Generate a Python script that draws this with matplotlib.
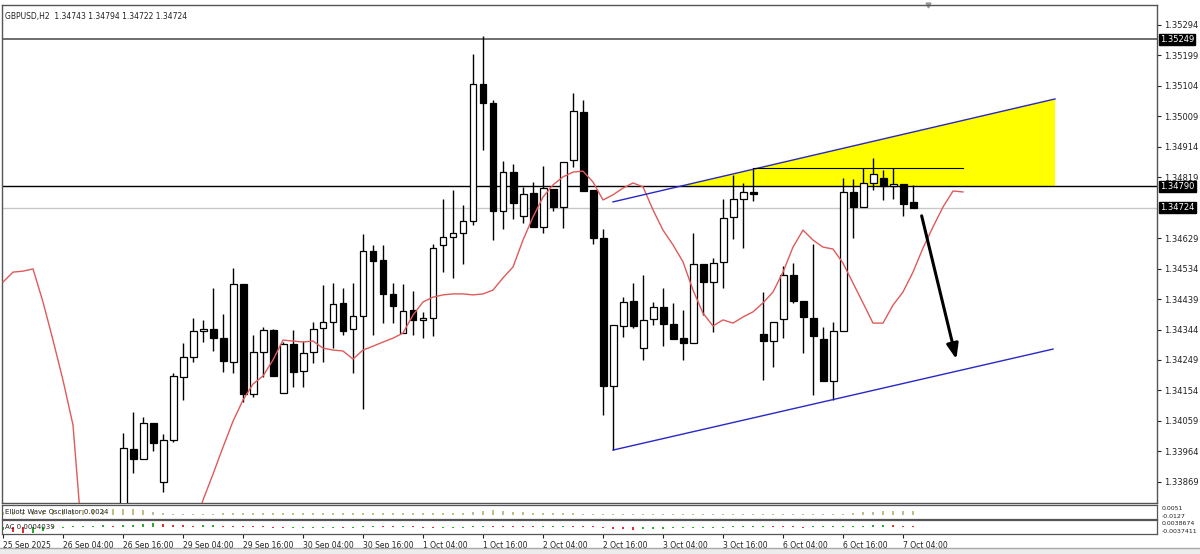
import numpy as np
import matplotlib.pyplot as plt
from matplotlib.patches import Polygon, Rectangle
from matplotlib.lines import Line2D
import matplotlib.transforms as mtransforms

plt.rcParams['font.family'] = ['DejaVu Sans']

# GBPUSD H2 candles, bar index 12..91 (bar 0 = 25 Sep 2025 16:00)
first_bar = 12
opens = [1.33750, 1.33971, 1.33940, 1.34052, 1.33868, 1.33999, 1.34196, 1.34258, 1.34339, 1.34346,
         1.34317, 1.34243, 1.34486, 1.34143, 1.34274, 1.34342, 1.34146, 1.34299, 1.34215, 1.34274,
         1.34349, 1.34367, 1.34427, 1.34346, 1.34386, 1.34589, 1.34561, 1.34455, 1.34333, 1.34405,
         1.34374, 1.34380, 1.34608, 1.34633, 1.34645, 1.34683, 1.35110, 1.35051, 1.34714, 1.34835,
         1.34698, 1.34770, 1.34664, 1.34782, 1.34726, 1.34873, 1.35023, 1.34779, 1.34629, 1.34168,
         1.34355, 1.34433, 1.34286, 1.34377, 1.34414, 1.34361, 1.34317, 1.34302, 1.34548, 1.34492,
         1.34555, 1.34695, 1.34751, 1.34773, 1.34330, 1.34308, 1.34377, 1.34514, 1.34433, 1.34380,
         1.34314, 1.34183, 1.34339, 1.34773, 1.34726, 1.34801, 1.34817, 1.34792, 1.34798, 1.34743]
highs = [1.34021, 1.34087, 1.34071, 1.34052, 1.34018, 1.34208, 1.34302, 1.34380, 1.34374, 1.34473,
         1.34392, 1.34536, 1.34486, 1.34327, 1.34352, 1.34346, 1.34305, 1.34342, 1.34308, 1.34367,
         1.34483, 1.34489, 1.34473, 1.34489, 1.34642, 1.34608, 1.34608, 1.34489, 1.34486, 1.34464,
         1.34399, 1.34611, 1.34751, 1.34779, 1.34732, 1.35204, 1.35260, 1.35060, 1.34870, 1.34860,
         1.34789, 1.34804, 1.34854, 1.34782, 1.34867, 1.35082, 1.35060, 1.34779, 1.34658, 1.34358,
         1.34445, 1.34489, 1.34514, 1.34430, 1.34473, 1.34427, 1.34405, 1.34645, 1.34548, 1.34567,
         1.34751, 1.34826, 1.34801, 1.34848, 1.34461, 1.34367, 1.34542, 1.34551, 1.34433, 1.34611,
         1.34352, 1.34367, 1.34817, 1.34814, 1.34848, 1.34879, 1.34842, 1.34848, 1.34798, 1.34794]
lows = [1.33687, 1.33896, 1.33940, 1.33965, 1.33837, 1.33993, 1.34124, 1.34243, 1.34305, 1.34277,
        1.34211, 1.34208, 1.34118, 1.34133, 1.34196, 1.34199, 1.34146, 1.34165, 1.34165, 1.34239,
        1.34243, 1.34286, 1.34327, 1.34208, 1.34096, 1.34327, 1.34364, 1.34364, 1.34333, 1.34327,
        1.34317, 1.34324, 1.34523, 1.34505, 1.34548, 1.34670, 1.34904, 1.34623, 1.34658, 1.34689,
        1.34676, 1.34664, 1.34645, 1.34714, 1.34661, 1.34851, 1.34776, 1.34611, 1.34077, 1.33968,
        1.34321, 1.34349, 1.34249, 1.34358, 1.34292, 1.34314, 1.34249, 1.34302, 1.34389, 1.34336,
        1.34473, 1.34626, 1.34598, 1.34745, 1.34186, 1.34227, 1.34317, 1.34427, 1.34271, 1.34140,
        1.34183, 1.34124, 1.34339, 1.34629, 1.34726, 1.34779, 1.34748, 1.34751, 1.34698, 1.34722]
closes = [1.33974, 1.33940, 1.34052, 1.33990, 1.33999, 1.34199, 1.34258, 1.34339, 1.34346, 1.34317,
          1.34246, 1.34486, 1.34143, 1.34274, 1.34342, 1.34199, 1.34299, 1.34211, 1.34271, 1.34346,
          1.34367, 1.34424, 1.34339, 1.34386, 1.34589, 1.34558, 1.34455, 1.34417, 1.34402, 1.34374,
          1.34380, 1.34598, 1.34633, 1.34645, 1.34683, 1.35110, 1.35051, 1.34714, 1.34835, 1.34739,
          1.34767, 1.34664, 1.34785, 1.34726, 1.34867, 1.35026, 1.34776, 1.34629, 1.34168, 1.34358,
          1.34430, 1.34355, 1.34374, 1.34414, 1.34361, 1.34314, 1.34302, 1.34548, 1.34492, 1.34551,
          1.34692, 1.34751, 1.34773, 1.34767, 1.34308, 1.34367, 1.34514, 1.34433, 1.34383, 1.34324,
          1.34183, 1.34339, 1.34773, 1.34726, 1.34801, 1.34829, 1.34792, 1.34798, 1.34736, 1.34724]

# red moving-average style line (bar index, price); dips off the chart between bars 8 and 19
ma_bars = list(range(0, 9)) + list(range(19, 97))
ma_vals = [1.34492, 1.34523, 1.34526, 1.34533, 1.34430, 1.34311, 1.34186, 1.34046, 1.33656,
           1.33718, 1.33812, 1.33893, 1.33977, 1.34058, 1.34124, 1.34174, 1.34199, 1.34249, 1.34311,
           1.34308, 1.34305, 1.34308, 1.34286, 1.34280, 1.34277, 1.34252, 1.34280, 1.34292, 1.34305,
           1.34317, 1.34333, 1.34389, 1.34430, 1.34445, 1.34452, 1.34455, 1.34455, 1.34452, 1.34455,
           1.34467, 1.34505, 1.34539, 1.34623, 1.34695, 1.34757, 1.34795, 1.34820, 1.34835, 1.34838,
           1.34804, 1.34748, 1.34764, 1.34785, 1.34801, 1.34789, 1.34717, 1.34654, 1.34608, 1.34555,
           1.34467, 1.34395, 1.34355, 1.34374, 1.34364, 1.34383, 1.34399, 1.34427, 1.34461, 1.34523,
           1.34601, 1.34654, 1.34623, 1.34601, 1.34595, 1.34551, 1.34489, 1.34427, 1.34364, 1.34364,
           1.34420, 1.34461, 1.34523, 1.34598, 1.34664, 1.34726, 1.34776, 1.34773]

# indicator values, bars 0..91
ewo = [1.5, 1.8, 2.0, 2.2, 2.4, 2.6, 2.6, 2.5, 2.6, 2.8, 3.0, 3.2, 3.4, 3.2, 3.0, 1.6, 1.2, 0.3, 0.2, 0.2,
       0.1, 0.1, 1.0, 1.0, 1.0, 1.0, 1.0, 1.0, 1.0, 1.0, 1.0, 1.0, 1.0, 1.0, 1.0, 1.0, 1.0, 1.0, 1.0, 1.0,
       1.0, 1.0, 1.0, 1.1, 1.3, 1.3, 1.3, 2.0, 2.4, 2.6, 2.4, 2.0, 1.6, 1.2, 1.1, 1.0, 1.0, 1.0, 0.9, 0.3,
       0.3, 0.3, 0.3, 0.3, 0.3, 0.3, 0.3, 0.3, 0.3, 0.3, 0.3, 0.3, 0.3, 0.3, 0.3, 0.3, 0.4, 0.4, 0.4, 0.4,
       0.5, 0.5, 0.5, 0.5, 0.5, 1.2, 1.6, 2.0, 2.2, 2.4, 2.4, 2.4]
ac = [-3, -5, -6, -5.5, -4, -1, -0.5, 0.3, 0.8, 1.2, 1.6, 1.3, 1.8, 2.5, 3.0, 3.8, 3.0, 2.4, 1.8, 1.3,
      1.6, 1.8, 1.4, 1.0, 0.6, 0.4, 0.1, -0.3, -0.6, -0.5, -0.4, -0.3, -0.2, -0.1, -0.3, -0.2, 0.2, 0.4, 0.2, 0.1,
      0.2, 0.0, -0.2, -0.5, -0.3, -0.2, -0.1, 0.6, 1.2, 0.9, 0.6, 0.5, 0.3, 0.0, 0.4, 0.6, 0.8, 0.7, 0.6, 0.5,
      -0.8, -1.5, -2.2, -3.0, -2.4, -1.8, -1.5, -1.2, -1.0, -0.8, -0.6, -0.4, -0.2, 0.0, 0.2, 0.4, 0.6, 0.5, 0.3, 0.1,
      -0.2, 0.0, 0.2, 0.3, 0.5, 0.8, 1.2, 1.8, 2.4, 1.6, 1.0, 0.4]

# levels and drawn objects
level_high = 1.35249
level_mid = 1.34790
level_last = 1.34724
resist = 1.34848
upper_line = [(61, 1.34742), (105.2, 1.35063)]
lower_line = [(61, 1.33968), (105.0, 1.34283)]
arrow_from = (91.8, 1.34707)
arrow_to = (95.4, 1.34243)

price_ticks = [1.35294, 1.35199, 1.35104, 1.35009, 1.34914, 1.34819, 1.34629, 1.34534,
               1.34439, 1.34344, 1.34249, 1.34154, 1.34059, 1.33964, 1.33869]
date_ticks = list(range(0, 91, 6))
date_labels = ['25 Sep 2025', '26 Sep 04:00', '26 Sep 16:00', '29 Sep 04:00', '29 Sep 16:00',
               '30 Sep 04:00', '30 Sep 16:00', '1 Oct 04:00', '1 Oct 16:00', '2 Oct 04:00',
               '2 Oct 16:00', '3 Oct 04:00', '3 Oct 16:00', '6 Oct 04:00', '6 Oct 16:00', '7 Oct 04:00']

W, H = 1200, 554
fig = plt.figure(figsize=(W / 100, H / 100), dpi=100)
fig.patch.set_facecolor('white')

def box(x0, y0, x1, y1):
    return [x0 / W, 1 - y1 / H, (x1 - x0) / W, (y1 - y0) / H]

ax = fig.add_axes(box(2, 5, 1157, 503))
ax_ewo = fig.add_axes(box(2, 505, 1157, 519), sharex=ax)
ax_ac = fig.add_axes(box(2, 520, 1157, 534), sharex=ax)

ax.set_xlim(-0.1, 115.4)
ax.set_ylim(1.33803, 1.35356)

# candles
x = np.arange(first_bar, first_bar + len(opens))
o = np.array(opens)
c = np.array(closes)
bull = c >= o
ax.vlines(x, lows, highs, color='black', lw=1, zorder=3)
bottoms = np.minimum(o, c)
heights = np.maximum(np.abs(c - o), 0.000015)
ax.bar(x, heights, bottom=bottoms, width=0.7,
       color=np.where(bull, 'white', 'black'), edgecolor='black', lw=0.9, zorder=4)

# red line
ax.plot(ma_bars, ma_vals, color='#e05a5a', lw=1, zorder=5)

# horizontal levels
ax.axhline(level_high, color='#555555', lw=1.2, zorder=2)
ax.axhline(level_mid, color='black', lw=1, zorder=2)
ax.axhline(level_last, color='#c8c8c8', lw=1, zorder=1)

# yellow zone between upper line and mid level
(xa, ya), (xb, yb) = upper_line
t = (level_mid - ya) / (yb - ya)
xc = xa + t * (xb - xa)
ax.add_patch(Polygon([(xc, level_mid), (xb, yb), (xb, level_mid)], closed=True,
                     facecolor='#ffff00', edgecolor='none', zorder=1.5))
ax.plot([xa, xb], [ya, yb], color='#2828c8', lw=1, zorder=6)
ax.plot([p[0] for p in lower_line], [p[1] for p in lower_line], color='#2828c8', lw=1, zorder=6)
ax.plot([75, 96], [resist, resist], color='black', lw=0.8, zorder=6)

ax.annotate('', xy=arrow_to, xytext=arrow_from,
            arrowprops=dict(arrowstyle='-|>,head_width=0.35,head_length=0.9', color='black', lw=2.2),
            zorder=7)

# right price axis
ax.yaxis.tick_right()
ax.set_yticks(price_ticks)
ax.set_yticklabels([f'{v:.5f}' for v in price_ticks])
ax.tick_params(axis='y', direction='out', length=3, width=0.8, labelsize=6, pad=2, colors='#222222')
ax.tick_params(axis='x', bottom=False, labelbottom=False)
for s in ax.spines.values():
    s.set_color('#555555')
    s.set_linewidth(1)

ytr = ax.get_yaxis_transform()
for lv in (level_high, level_mid, level_last):
    ax.text(1.0025, lv, f'{lv:.5f}', transform=ytr, fontsize=6, color='white', va='center', ha='left',
            bbox=dict(boxstyle='square,pad=0.15', facecolor='black', edgecolor='black'),
            zorder=10, clip_on=False)

ax.text(0.003, 0.985, 'GBPUSD,H2  1.34743 1.34794 1.34722 1.34724', transform=ax.transAxes,
        fontsize=5.5, color='#222222', va='top', ha='left')
ax.plot([92.5], [1.0], marker='v', color='#9a9a9a', markersize=3.5,
        transform=mtransforms.blended_transform_factory(ax.transData, ax.transAxes), clip_on=False)

# Elliott Wave Oscillator panel
xi = np.arange(len(ewo))
ewo_draw = np.maximum(np.array(ewo), 0.7)
ax_ewo.vlines(xi, 0, ewo_draw, color='#b8b070', lw=1.2)
ax_ewo.set_ylim(-2.0, 5.5)
ax_ewo.set_yticks([])
ax_ewo.tick_params(axis='x', bottom=False, labelbottom=False)
ax_ewo.text(0.003, 0.5, 'Elliott Wave Oscillator 0.0024', transform=ax_ewo.transAxes,
            fontsize=5, va='center', ha='left', color='#222222')
ax_ewo.text(1.004, 0.78, '0.0051', transform=ax_ewo.transAxes, fontsize=4.5, va='center', color='#222222')
ax_ewo.text(1.004, 0.18, '-0.0127', transform=ax_ewo.transAxes, fontsize=4.5, va='center', color='#222222')

# Accelerator panel
ac_arr = np.array(ac)
ac_col = ['#18a018' if i == 0 or ac_arr[i] > ac_arr[i - 1] else '#e01818' for i in range(len(ac))]
ac_draw = np.where(ac_arr >= 0, 1, -1) * np.maximum(np.abs(ac_arr), 0.6)
ax_ac.vlines(xi, 0, ac_draw, colors=ac_col, lw=1.3)
ax_ac.set_ylim(-7, 7)
ax_ac.set_yticks([])
ax_ac.text(0.003, 0.5, 'AC 0.0004039', transform=ax_ac.transAxes,
           fontsize=5, va='center', ha='left', color='#222222')
ax_ac.text(1.004, 0.78, '0.0038674', transform=ax_ac.transAxes, fontsize=4.5, va='center', color='#222222')
ax_ac.text(1.004, 0.18, '-0.0037411', transform=ax_ac.transAxes, fontsize=4.5, va='center', color='#222222')

ax_ac.set_xticks(date_ticks)
ax_ac.set_xticklabels(date_labels)
ax_ac.tick_params(axis='x', direction='out', length=3, width=0.8, labelsize=5.5, pad=2, colors='#222222')
for lab in ax_ac.get_xticklabels():
    lab.set_horizontalalignment('left')

for a in (ax_ewo, ax_ac):
    for s in a.spines.values():
        s.set_color('#555555')
        s.set_linewidth(0.9)

# bottom status strip
fig.add_artist(Rectangle((0, 0), 1, 6 / H, transform=fig.transFigure, facecolor='#ececec', edgecolor='none'))
fig.add_artist(Line2D([0, 1], [6 / H, 6 / H], transform=fig.transFigure, color='#a8a8a8', lw=1))

fig.savefig('out.png', dpi=100)
